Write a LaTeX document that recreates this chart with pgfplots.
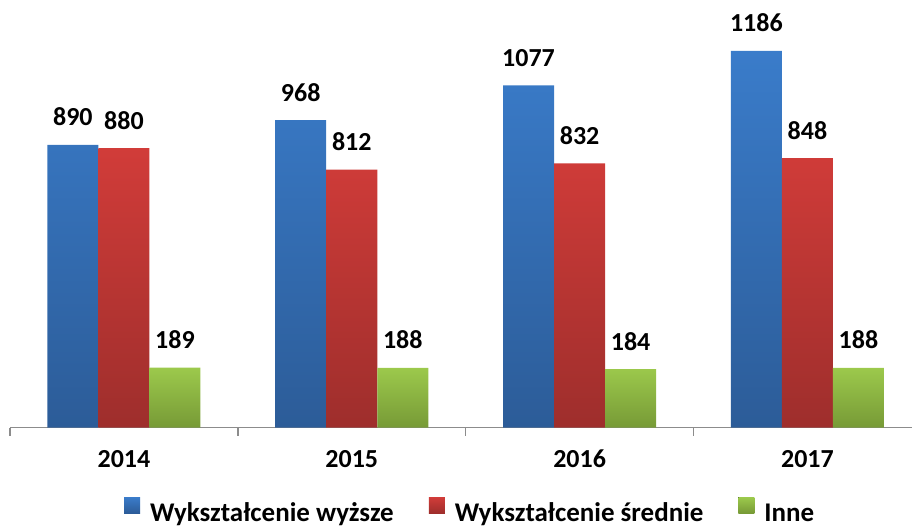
\documentclass[border=0pt]{standalone}
\usepackage{pgfplots}
\pgfplotsset{compat=1.18}
\usepackage{fontspec}
\setmainfont{Carlito}

\definecolor{bluetop}{HTML}{3A7CCA}
\definecolor{bluebot}{HTML}{2C5C98}
\definecolor{redtop}{HTML}{D13C39}
\definecolor{redbot}{HTML}{9E2E2C}
\definecolor{greentop}{HTML}{9CC94C}
\definecolor{greenbot}{HTML}{779A36}
\definecolor{axgray}{HTML}{8C8C8C}

\begin{document}
\begin{tikzpicture}
\begin{axis}[
    at={(0pt,0pt)}, anchor=south west,
    width=903pt, height=428pt,
    scale only axis,
    ybar=0pt,
    bar width=0.224,
    xmin=-0.5, xmax=3.46,
    ymin=0, ymax=1346,
    axis y line=none,
    axis x line*=bottom,
    x axis line style={axgray, line width=1.5pt},
    xtick={0,1,2,3},
    xticklabels={2014,2015,2016,2017},
    major tick length=0pt,
    tick style={axgray, line width=1.5pt},
    extra x ticks={-0.5,0.5,1.5,2.5},
    extra x tick labels={},
    extra x tick style={major tick length=8pt},
    xtick align=outside,
    ticklabel style={font=\bfseries\fontsize{26}{30}\selectfont},
    xticklabel style={anchor=base, yshift=-40pt},
    /pgf/number format/assume math mode=true,
    /pgf/number format/1000 sep={},
    nodes near coords,
    every node near coord/.append style={font=\bfseries\fontsize{26}{30}\selectfont, anchor=base, yshift=19pt, inner sep=0pt, text=black},
    legend columns=3,
    legend style={at={(axis description cs:0.51,-0.2)}, anchor=base, draw=none,
        font=\bfseries\fontsize{27}{30}\selectfont,
        /tikz/every odd column/.append style={column sep=8pt},
        /tikz/every even column/.append style={column sep=33pt},
        inner sep=0pt},
    legend image code/.code={\fill[#1] (0pt,0pt) rectangle (16pt,16pt);},
    clip=false,
]
\addplot[draw=none, top color=bluetop, bottom color=bluebot] coordinates {(0,890) (1,968) (2,1077) (3,1186)};
\addlegendentry{Wykształcenie wyższe}
\addplot[draw=none, top color=redtop, bottom color=redbot] coordinates {(0,880) (1,812) (2,832) (3,848)};
\addlegendentry{Wykształcenie średnie}
\addplot[draw=none, top color=greentop, bottom color=greenbot] coordinates {(0,189) (1,188) (2,184) (3,188)};
\addlegendentry{Inne}
\end{axis}
\path[use as bounding box] (-10pt,-101pt) rectangle (903pt,428pt);
\end{tikzpicture}
\end{document}
